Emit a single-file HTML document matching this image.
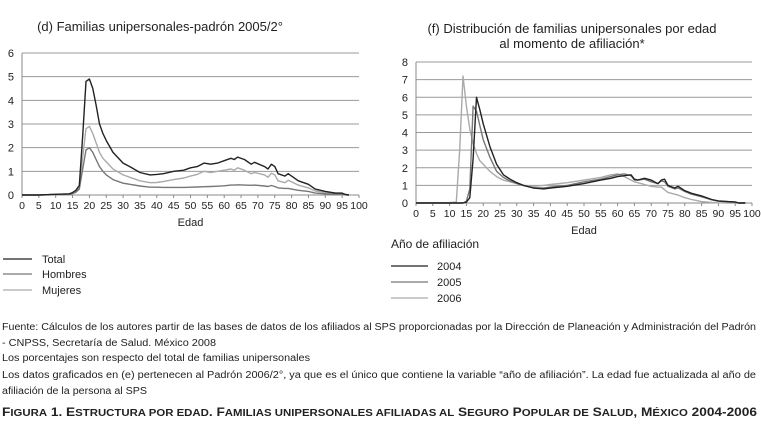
<!DOCTYPE html>
<html><head><meta charset="utf-8"><style>
body{margin:0;background:#fff}
svg{display:block;font-family:"Liberation Sans",sans-serif}
</style></head><body>
<svg id="svg" width="761" height="430" viewBox="0 0 761 430">
<g id="chartD"></g>
<g id="chartF"></g>
<g font-size="11" fill="#222">
<line x1="3" x2="32" y1="259" y2="259" stroke="#222" stroke-width="1.3"/><text x="42" y="263">Total</text>
<line x1="3" x2="32" y1="274" y2="274" stroke="#777" stroke-width="1.3"/><text x="42" y="278">Hombres</text>
<line x1="3" x2="32" y1="290" y2="290" stroke="#aaa" stroke-width="1.3"/><text x="42" y="294">Mujeres</text>
</g>
<g font-size="11" fill="#222">
<text x="391" y="248" font-size="12">Año de afiliación</text>
<line x1="391" x2="428" y1="266" y2="266" stroke="#222" stroke-width="1.3"/><text x="437" y="270">2004</text>
<line x1="391" x2="428" y1="282" y2="282" stroke="#777" stroke-width="1.3"/><text x="437" y="286">2005</text>
<line x1="391" x2="428" y1="298" y2="298" stroke="#aaa" stroke-width="1.3"/><text x="437" y="302">2006</text>
</g>
<g font-size="10" fill="#222">
<text x="2" y="330" textLength="754" lengthAdjust="spacingAndGlyphs">Fuente: Cálculos de los autores partir de las bases de datos de los afiliados al SPS proporcionadas por la Dirección de Planeación y Administración del Padrón</text>
<text x="2" y="346" textLength="214" lengthAdjust="spacingAndGlyphs">- CNPSS, Secretaría de Salud. México 2008</text>
<text x="2" y="361" textLength="308" lengthAdjust="spacingAndGlyphs">Los porcentajes son respecto del total de familias unipersonales</text>
<text x="2" y="378" textLength="754" lengthAdjust="spacingAndGlyphs">Los datos graficados en (e) pertenecen al Padrón 2006/2°, ya que es el único que contiene la variable “año de afiliación”. La edad fue actualizada al año de</text>
<text x="2" y="394" textLength="145" lengthAdjust="spacingAndGlyphs">afiliación de la persona al SPS</text>
</g>
<text x="2" y="416" font-size="12" font-weight="bold" fill="#222" textLength="755" lengthAdjust="spacingAndGlyphs">F<tspan font-size="10">IGURA</tspan> 1. E<tspan font-size="10">STRUCTURA POR EDAD</tspan>. F<tspan font-size="10">AMILIAS UNIPERSONALES AFILIADAS AL</tspan> S<tspan font-size="10">EGURO</tspan> P<tspan font-size="10">OPULAR DE</tspan> S<tspan font-size="10">ALUD</tspan>, M<tspan font-size="10">ÉXICO</tspan> 2004-2006</text>
</svg>
<script>
const agesD=[0,5,10,14,15,16,17,18,19,20,21,22,23,24,25,27,30,32,35,38,40,42,45,48,50,52,54,56,58,60,62,63,64,66,68,69,72,73,74,75,76,78,79,82,85,87,90,93,95,96,97];
const totalD=[0,0,0.03,0.05,0.1,0.2,0.4,2.5,4.8,4.9,4.5,3.8,3.0,2.6,2.3,1.8,1.35,1.2,0.95,0.85,0.87,0.9,1.0,1.05,1.15,1.2,1.35,1.3,1.35,1.45,1.55,1.5,1.6,1.5,1.3,1.38,1.2,1.1,1.3,1.2,0.9,0.8,0.9,0.6,0.45,0.25,0.15,0.08,0.08,0.02,0];
const hombresD=[0,0,0.02,0.03,0.06,0.12,0.25,1.1,1.9,2.0,1.8,1.5,1.2,1.0,0.85,0.65,0.5,0.45,0.38,0.33,0.33,0.32,0.32,0.32,0.33,0.34,0.35,0.36,0.37,0.39,0.42,0.42,0.43,0.42,0.41,0.42,0.38,0.36,0.4,0.36,0.3,0.28,0.28,0.2,0.15,0.08,0.05,0.03,0.03,0.01,0];
const mujeresD=[0,0,0.02,0.04,0.08,0.15,0.3,1.6,2.8,2.9,2.6,2.2,1.8,1.55,1.4,1.1,0.85,0.75,0.6,0.52,0.53,0.57,0.65,0.72,0.8,0.87,1.0,0.95,1.0,1.05,1.1,1.05,1.15,1.05,0.9,0.95,0.85,0.75,0.92,0.85,0.6,0.52,0.62,0.42,0.3,0.17,0.1,0.05,0.05,0.01,0];
const ticksD=[0,1,2,3,4,5,6];
const agesF=[0,10,12,13,14,15,16,17,18,19,20,22,24,26,28,30,32,35,38,40,45,50,55,58,60,62,64,65,66,68,70,72,73,74,75,77,78,80,82,85,88,90,93,95,96,98];
const y2004=[0,0,0,0,0,0.05,0.3,2.5,6.0,5.3,4.5,3.2,2.2,1.6,1.35,1.15,1.0,0.85,0.8,0.85,0.95,1.1,1.3,1.4,1.5,1.55,1.6,1.35,1.3,1.4,1.3,1.1,1.3,1.35,1.0,0.85,0.95,0.7,0.55,0.4,0.2,0.12,0.08,0.06,0,0];
const y2005=[0,0,0,0,0,0.1,0.8,5.5,5.2,4.4,3.6,2.6,1.8,1.45,1.25,1.1,1.0,0.85,0.85,0.9,1.0,1.2,1.35,1.5,1.6,1.65,1.55,1.3,1.3,1.35,1.2,1.1,1.25,1.2,0.95,0.8,0.85,0.65,0.5,0.35,0.18,0.1,0.06,0.04,0,0];
const y2006=[0,0.02,0.05,3.0,7.2,5.5,4.2,3.4,2.8,2.4,2.2,1.8,1.5,1.3,1.2,1.1,1.0,0.95,1.0,1.05,1.15,1.3,1.45,1.6,1.65,1.5,1.3,1.2,1.15,1.05,0.95,0.9,0.9,0.75,0.6,0.5,0.45,0.3,0.2,0.08,0.03,0.01,0,0,0,0];
const ticksF=[0,1,2,3,4,5,6,7,8];
const xTicks=[0,5,10,15,20,25,30,35,40,45,50,55,60,65,70,75,80,85,90,95,100];
const NS='http://www.w3.org/2000/svg';
function mk(parent,tag,attrs){const e=document.createElementNS(NS,tag);for(const k in attrs)e.setAttribute(k,attrs[k]);parent.appendChild(e);return e;}
function chart(g,cfg){
  const xs=v=>cfg.x0+(cfg.x1-cfg.x0)*v/100;
  const ys=v=>cfg.y0-(cfg.y0-cfg.y1)*v/cfg.ymax;
  cfg.title.forEach((t,i)=>{const e=mk(g,'text',{x:cfg.tx,y:cfg.ty+i*15,'font-size':13,'text-anchor':'middle',fill:'#222'});e.textContent=t;
    
    });
  cfg.ticks.forEach(t=>{
    if(t>0){const l=mk(g,'line',{x1:cfg.x0,x2:cfg.x1,y1:ys(t),y2:ys(t),stroke:'#999','stroke-width':1});
      
      }
    const e=mk(g,'text',{x:cfg.x0-8,y:ys(t)+4,'font-size':11,'text-anchor':'end',fill:'#222'});e.textContent=t;
    
    
  });
  const ax=mk(g,'line',{x1:cfg.x0,x2:cfg.x1,y1:cfg.y0,y2:cfg.y0,stroke:'#888','stroke-width':1});
  
  
  const ay=mk(g,'line',{x1:cfg.x0,x2:cfg.x0,y1:cfg.y0,y2:cfg.y1,stroke:'#888','stroke-width':1});
  
  
  xTicks.forEach(t=>{
    mk(g,'line',{x1:xs(t),x2:xs(t),y1:cfg.y0,y2:cfg.y0+3,stroke:'#888'});
    const e=mk(g,'text',{x:xs(t),y:cfg.y0+14,'font-size':10.5,'text-anchor':'middle',fill:'#222'});e.textContent=t;
    
    
  });
  const xt=mk(g,'text',{x:(cfg.x0+cfg.x1)/2,y:cfg.y0+31,'font-size':11,'text-anchor':'middle',fill:'#222'});xt.textContent='Edad';
  
  
  cfg.series.forEach(s=>{
    const d=cfg.ages.map((a,i)=>(i?'L':'M')+xs(a).toFixed(1)+','+ys(s.v[i]).toFixed(1)).join('');
    const p=mk(g,'path',{d:d,fill:'none',stroke:s.c,'stroke-width':1.4,'stroke-linejoin':'round'});
    
    
  });
}
chart(document.getElementById('chartD'),{x0:22,x1:359,y0:195,y1:53,ymax:6,ticks:ticksD,ages:agesD,tx:160,ty:31,
  title:['(d) Familias unipersonales-padrón 2005/2°'],
  series:[{n:'line-mujeres',v:mujeresD,c:'#aaa'},{n:'line-hombres',v:hombresD,c:'#777'},{n:'line-total',v:totalD,c:'#222'}]});
chart(document.getElementById('chartF'),{x0:416,x1:752,y0:203,y1:62,ymax:8,ticks:ticksF,ages:agesF,tx:572,ty:33,
  title:['(f) Distribución de familias unipersonales por edad','al momento de afiliación*'],
  series:[{n:'line-2006',v:y2006,c:'#aaa'},{n:'line-2005',v:y2005,c:'#777'},{n:'line-2004',v:y2004,c:'#222'}]});
</script>
</body></html>
